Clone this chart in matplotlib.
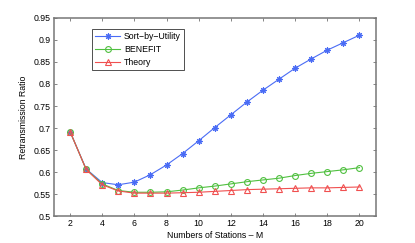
import matplotlib
matplotlib.use("Agg")
import matplotlib.pyplot as plt

M = list(range(2, 21))
sort_by_utility = [0.692, 0.607, 0.576, 0.571, 0.577, 0.594, 0.616, 0.642, 0.671,
                   0.701, 0.730, 0.759, 0.786, 0.811, 0.836, 0.857, 0.877, 0.894, 0.911]
benefit = [0.692, 0.606, 0.573, 0.558, 0.554, 0.554, 0.555, 0.559, 0.564,
           0.568, 0.573, 0.578, 0.582, 0.586, 0.592, 0.597, 0.601, 0.605, 0.610]
theory = [0.692, 0.606, 0.571, 0.557, 0.552, 0.552, 0.552, 0.553, 0.554,
          0.556, 0.558, 0.560, 0.561, 0.562, 0.563, 0.564, 0.564, 0.565, 0.566]
xticks = list(range(2, 21, 2))
yticks = [0.5, 0.55, 0.6, 0.65, 0.7, 0.75, 0.8, 0.85, 0.9, 0.95]

plt.rcParams['font.family'] = ['Liberation Sans', 'DejaVu Sans']
fig = plt.figure(figsize=(4.15, 2.43), dpi=100)
ax = fig.add_axes([0.130, 0.111, 0.775, 0.815])

blue = '#4a6cf5'
green = '#50c040'
red = '#f05050'
fs = 6.3
ax.plot(M, sort_by_utility, color=blue, marker=(8, 2, 0), ms=4.5, lw=0.8,
        mfc=blue, mec=blue, mew=0.8, label='Sort\u2212by\u2212Utility')
ax.plot(M, benefit, color=green, marker='o', ms=4.2, lw=0.8,
        mfc='none', mec=green, mew=0.8, label='BENEFIT')
ax.plot(M, theory, color=red, marker='^', ms=4.5, lw=0.8,
        mfc='none', mec=red, mew=0.8, label='Theory')

ax.set_xlim(1, 21)
ax.set_ylim(0.5, 0.95)
ax.set_xticks(xticks)
ax.set_yticks(yticks)
ax.set_yticklabels([('%g' % v) for v in yticks])
ax.tick_params(direction='in', top=True, right=True, labelsize=fs, length=2.5,
               width=0.5, color='#555555', pad=2.5)
for s in ax.spines.values():
    s.set_color('#777777')
    s.set_linewidth(1.1)
ax.set_xlabel('Numbers of Stations \u2013 M', fontsize=fs, labelpad=2)
ax.set_ylabel('Retransmission Ratio', fontsize=fs, labelpad=4)

leg = ax.legend(loc='upper left', bbox_to_anchor=(0.118, 0.943), fontsize=fs,
                fancybox=False, framealpha=1, edgecolor='#333333',
                handlelength=2.9, borderpad=0.35, labelspacing=0.45,
                handletextpad=0.4, borderaxespad=0)
leg.get_frame().set_linewidth(0.6)

fig.savefig('out.png', dpi=100)
